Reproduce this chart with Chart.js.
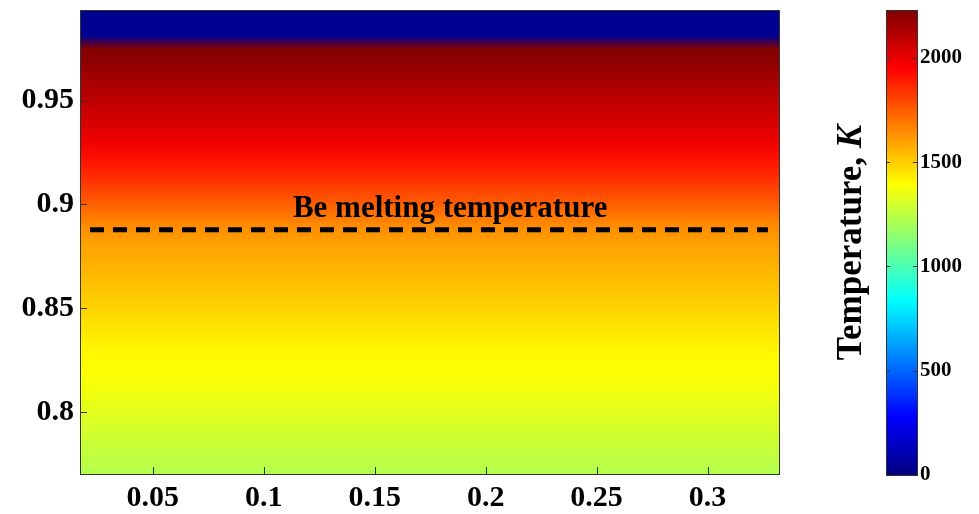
<!DOCTYPE html>
<html>
<head>
<meta charset="utf-8">
<script src="https://cdn.jsdelivr.net/npm/chart.js@4/dist/chart.umd.min.js"></script>
<style>
  body { margin: 0; background: #fff; }
  .box { position: absolute; left: 0; top: 0; width: 979px; height: 514px; }
</style>
</head>
<body>
<div class="box"><canvas id="mapChart"></canvas></div>
<div class="box"><canvas id="barChart"></canvas></div>
<script>
let xTicks = [0.05, 0.1, 0.15, 0.2, 0.25, 0.3];
let yTicks = [0.8, 0.85, 0.9, 0.95];
let xRange = [0.0172, 0.3322];
let yRange = [0.7702, 0.9933];

// temperature along the vertical axis (same for every x)
let rowY = [0.7702, 0.78, 0.79, 0.8, 0.81, 0.82, 0.83, 0.84, 0.85, 0.86, 0.87, 0.88,
  0.89, 0.9, 0.91, 0.92, 0.93, 0.94, 0.95, 0.96, 0.97, 0.9745, 0.981, 0.9933];
let rowTemp = [1225, 1260, 1295, 1330, 1365, 1390, 1415, 1450, 1490, 1525, 1560, 1595,
  1650, 1745, 1830, 1905, 1985, 2045, 2095, 2150, 2205, 2220, 40, 30];

let meltY = 0.8876;
let meltX = [0.0217, 0.3272];
let meltLabel = "Be melting temperature";
let meltLabelPos = { x: 0.184, y: 0.8939 };

let tempRange = [0, 2230];
let cbTicks = [0, 500, 1000, 1500, 2000];
let cbTitle = "Temperature, ";
let cbTitleUnit = "K";

let serif = "'Liberation Serif', 'Times New Roman', serif";

function clamp(v) { return Math.max(0, Math.min(1, v)); }
function jet(t) {
  t = clamp(t);
  let r = clamp(1.5 - Math.abs(4 * t - 3));
  let g = clamp(1.5 - Math.abs(4 * t - 2));
  let b = clamp(1.5 - Math.abs(4 * t - 1));
  return `rgb(${Math.round(r * 255)}, ${Math.round(g * 255)}, ${Math.round(b * 255)})`;
}
function tempColor(T) { return jet((T - tempRange[0]) / (tempRange[1] - tempRange[0])); }

function fieldGradient(ctx) {
  let chart = ctx.chart;
  if (!chart.chartArea) return "transparent";
  let ys = chart.scales.y;
  let p0 = ys.getPixelForValue(yRange[0]);
  let p1 = ys.getPixelForValue(yRange[1]);
  let g = chart.ctx.createLinearGradient(0, p0, 0, p1);
  for (let i = 0; i < rowY.length; i++) {
    let p = ys.getPixelForValue(rowY[i]);
    g.addColorStop(clamp((p - p0) / (p1 - p0)), tempColor(rowTemp[i]));
  }
  return g;
}

function barGradient(ctx) {
  let chart = ctx.chart;
  if (!chart.chartArea) return "transparent";
  let ys = chart.scales.y;
  let p0 = ys.getPixelForValue(tempRange[0]);
  let p1 = ys.getPixelForValue(tempRange[1]);
  let g = chart.ctx.createLinearGradient(0, p0, 0, p1);
  [0, 0.125, 0.375, 0.625, 0.875, 1].forEach(t => g.addColorStop(t, jet(t)));
  return g;
}

function noPad(s) {
  s.paddingTop = 0; s.paddingBottom = 0; s.paddingLeft = 0; s.paddingRight = 0;
}

function frameAndTicks(len, bothSides) {
  return {
    id: "frameAndTicks",
    afterDatasetsDraw(chart) {
      let c = chart.ctx;
      let a = chart.chartArea;
      c.save();
      c.strokeStyle = "#333";
      c.lineWidth = 1;
      c.strokeRect(Math.round(a.left) + 0.5, Math.round(a.top) + 0.5,
        Math.round(a.right - a.left), Math.round(a.bottom - a.top));
      let ys = chart.scales.y;
      c.beginPath();
      ys.ticks.forEach((t, i) => {
        let p = Math.round(ys.getPixelForTick(i)) + 0.5;
        c.moveTo(a.left, p); c.lineTo(a.left + len, p);
        if (bothSides) { c.moveTo(a.right, p); c.lineTo(a.right - len, p); }
      });
      let xs = chart.scales.x;
      if (xs.type === "linear") {
        xs.ticks.forEach((t, i) => {
          let p = Math.round(xs.getPixelForTick(i)) + 0.5;
          c.moveTo(p, a.bottom); c.lineTo(p, a.bottom - len);
        });
      }
      c.stroke();
      c.restore();
    }
  };
}

let meltText = {
  id: "meltText",
  afterDatasetsDraw(chart) {
    let c = chart.ctx;
    c.save();
    c.font = `bold 31px ${serif}`;
    c.fillStyle = "#000";
    c.textAlign = "center";
    c.textBaseline = "alphabetic";
    c.fillText(meltLabel, chart.scales.x.getPixelForValue(meltLabelPos.x),
      chart.scales.y.getPixelForValue(meltLabelPos.y));
    c.restore();
  }
};

let cbTitleText = {
  id: "cbTitleText",
  afterDraw(chart) {
    let c = chart.ctx;
    let a = chart.chartArea;
    c.save();
    c.translate(a.left - 34, (a.top + a.bottom) / 2);
    c.rotate(-Math.PI / 2);
    c.fillStyle = "#000";
    c.textBaseline = "middle";
    let f1 = `bold 35px ${serif}`;
    let f2 = `italic bold 35px ${serif}`;
    c.font = f1;
    let w1 = c.measureText(cbTitle).width;
    c.font = f2;
    let w2 = c.measureText(cbTitleUnit).width;
    let x0 = -(w1 + w2) / 2;
    c.font = f1;
    c.textAlign = "left";
    c.fillText(cbTitle, x0, 0);
    c.font = f2;
    c.fillText(cbTitleUnit, x0 + w1, 0);
    c.restore();
  }
};

let tickFont = { family: serif, size: 30, weight: "bold" };

new Chart(document.getElementById("mapChart"), {
  type: "line",
  data: {
    datasets: [
      {
        label: "field",
        data: [{ x: xRange[0], y: yRange[1] }, { x: xRange[1], y: yRange[1] }],
        fill: "start",
        backgroundColor: fieldGradient,
        borderWidth: 0,
        pointRadius: 0,
        order: 2,
      },
      {
        label: meltLabel,
        data: [{ x: meltX[0], y: meltY }, { x: meltX[1], y: meltY }],
        fill: false,
        borderColor: "#000",
        borderWidth: 5,
        borderDash: [14, 9],
        borderCapStyle: "butt",
        pointRadius: 0,
        order: 1,
      },
    ],
  },
  options: {
    responsive: true,
    maintainAspectRatio: false,
    animation: false,
    events: [],
    layout: { autoPadding: false, padding: { top: 10, right: 200, left: 0, bottom: 0 } },
    plugins: { legend: { display: false }, tooltip: { enabled: false } },
    scales: {
      x: {
        type: "linear",
        min: xRange[0],
        max: xRange[1],
        afterBuildTicks: s => { s.ticks = xTicks.map(v => ({ value: v })); },
        afterFit: s => { s.height = 40; noPad(s); },
        grid: { display: false, drawTicks: false },
        border: { display: false },
        ticks: { color: "#000", font: tickFont, padding: 6, maxRotation: 0, callback: v => String(v) },
      },
      y: {
        type: "linear",
        min: yRange[0],
        max: yRange[1],
        afterBuildTicks: s => { s.ticks = yTicks.map(v => ({ value: v })); },
        afterFit: s => { s.width = 80; noPad(s); },
        grid: { display: false, drawTicks: false },
        border: { display: false },
        ticks: { color: "#000", font: tickFont, padding: 6, callback: v => String(v) },
      },
    },
  },
  plugins: [frameAndTicks(7, false), meltText],
});

new Chart(document.getElementById("barChart"), {
  type: "bar",
  data: {
    labels: ["T"],
    datasets: [
      {
        label: "Temperature",
        data: [tempRange],
        backgroundColor: barGradient,
        borderWidth: 0,
        barPercentage: 1,
        categoryPercentage: 1,
      },
    ],
  },
  options: {
    responsive: true,
    maintainAspectRatio: false,
    animation: false,
    events: [],
    layout: { autoPadding: false, padding: { top: 10, right: 0, left: 886, bottom: 39 } },
    plugins: { legend: { display: false }, tooltip: { enabled: false } },
    scales: {
      x: { display: false },
      y: {
        position: "right",
        min: tempRange[0],
        max: tempRange[1],
        afterBuildTicks: s => { s.ticks = cbTicks.map(v => ({ value: v })); },
        afterFit: s => { s.width = 62; noPad(s); },
        grid: { display: false, drawTicks: false },
        border: { display: false },
        ticks: { color: "#000", font: { family: serif, size: 21, weight: "bold" }, padding: 3, callback: v => String(v) },
      },
    },
  },
  plugins: [frameAndTicks(4, true), cbTitleText],
});
</script>
</body>
</html>
